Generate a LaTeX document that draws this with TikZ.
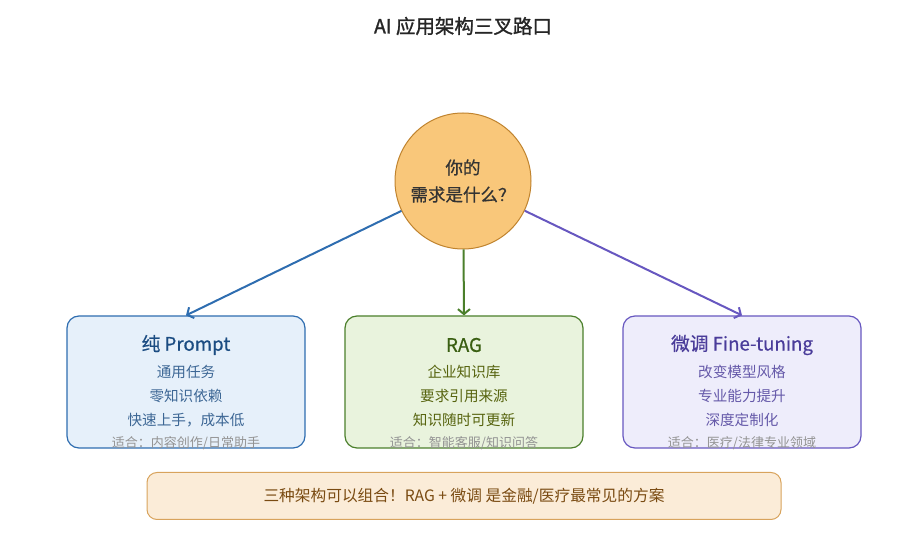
\documentclass[tikz,border=0pt]{standalone}
\usepackage{fontspec}
\setmainfont{Noto Sans CJK SC}
\newfontfamily\medfont[FakeBold=0.6]{Noto Sans CJK SC}
\newfontfamily\semifont[FakeBold=1.3]{Noto Sans CJK SC}
\usepackage{tikz}
\usetikzlibrary{arrows.meta,positioning}
\definecolor{qfill}{HTML}{F9C77A}
\definecolor{qline}{HTML}{C0832E}
\definecolor{pfill}{HTML}{E6F0FA}
\definecolor{pline}{HTML}{2E6DB0}
\definecolor{ptext}{HTML}{1B4C82}
\definecolor{rfill}{HTML}{E9F3DD}
\definecolor{rline}{HTML}{4B7F2B}
\definecolor{rtext}{HTML}{3A5F12}
\definecolor{ffill}{HTML}{EEEDFB}
\definecolor{fline}{HTML}{6757C0}
\definecolor{ftext}{HTML}{4A3C9A}
\definecolor{nfill}{HTML}{FBECD8}
\definecolor{nline}{HTML}{D8A35C}
\definecolor{ntext}{HTML}{7A4B12}
\newcommand{\boxw}{238pt}
\newcommand{\boxh}{132pt}

\begin{document}
\begin{tikzpicture}[x=1pt,y=-1pt,
    route/.style={draw,rounded corners=12pt,line width=1.2pt,minimum width=\boxw,minimum height=\boxh},
    head/.style={font=\fontsize{18.7}{22}\selectfont\medfont},
    item/.style={font=\fontsize{14.6}{17}\selectfont},
    note/.style={font=\fontsize{13}{15}\selectfont,text=gray!85},
    link/.style={line width=2pt,-{Straight Barb[length=5pt,width=12pt]}}]
    \useasboundingbox (0,0) rectangle (914,534);
    % title
    \node[font=\fontsize{19.5}{22}\selectfont\semifont,text=black!85] (title) at (463,26) {AI 应用架构三叉路口};
    % question
    \node[circle,draw=qline,fill=qfill,line width=1pt,minimum size=136pt,align=center,
          font=\fontsize{17.5}{27}\selectfont\medfont,text=black!80] (need) at (463,181) {你的\\需求是什么？};
    % three routes
    \node[route,draw=pline,fill=pfill] (prompt) at (186,382) {};
    \node[route,draw=rline,fill=rfill] (rag) at (464,382) {};
    \node[route,draw=fline,fill=ffill] (tune) at (742,382) {};
    \node[head,text=ptext] (prompth) at (186,345) {纯 Prompt};
    \node[item,text=ptext!85] (p1) at (186,372) {通用任务};
    \node[item,text=ptext!85] (p2) at (186,396) {零知识依赖};
    \node[item,text=ptext!85] (p3) at (186,420) {快速上手，成本低};
    \node[note] (pn) at (186,443) {适合：内容创作/日常助手};
    \node[head,text=rtext] (ragh) at (464,345) {RAG};
    \node[item,text=rtext!85!orange] (r1) at (464,372) {企业知识库};
    \node[item,text=rtext!85!orange] (r2) at (464,396) {要求引用来源};
    \node[item,text=rtext!85!orange] (r3) at (464,420) {知识随时可更新};
    \node[note] (rn) at (464,443) {适合：智能客服/知识问答};
    \node[head,text=ftext] (tuneh) at (742,345) {微调 Fine-tuning};
    \node[item,text=ftext!85] (f1) at (742,372) {改变模型风格};
    \node[item,text=ftext!85] (f2) at (742,396) {专业能力提升};
    \node[item,text=ftext!85] (f3) at (742,420) {深度定制化};
    \node[note] (fn) at (742,443) {适合：医疗/法律专业领域};
    % arrows
    \draw[link,pline] (need) -- (prompt.north);
    \draw[link,rline] (need) -- (rag.north);
    \draw[link,fline] (need) -- (tune.north);
    % bottom note
    \node[draw=nline,fill=nfill,rounded corners=10pt,line width=1pt,minimum width=634pt,minimum height=47pt,
          font=\fontsize{15.7}{18}\selectfont,text=ntext] (combo) at (464,496) {三种架构可以组合！RAG + 微调 是金融/医疗最常见的方案};
\end{tikzpicture}
\end{document}
